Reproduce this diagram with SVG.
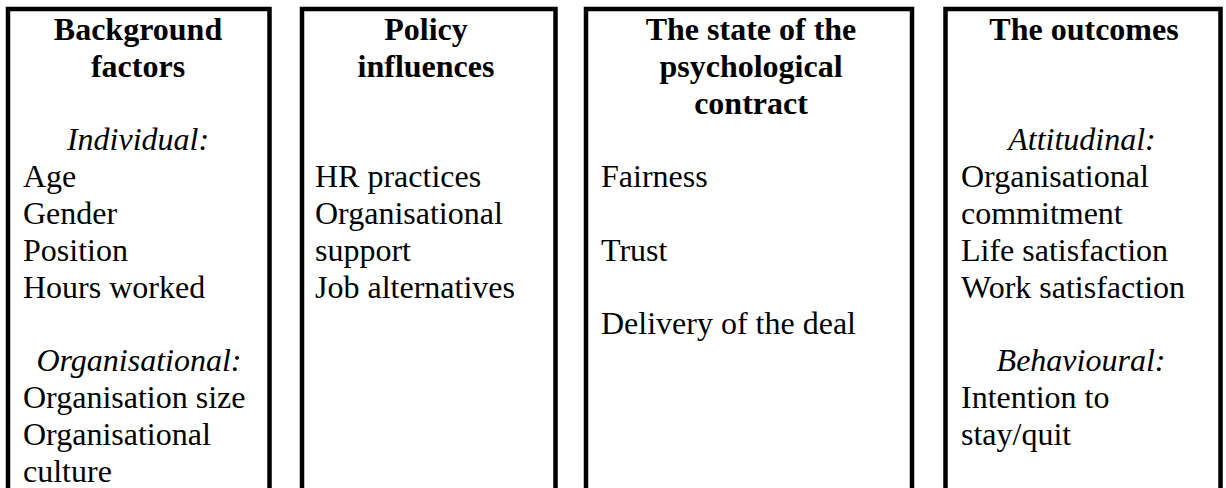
<svg xmlns="http://www.w3.org/2000/svg" width="1226" height="488" viewBox="0 0 1226 488">
<style>
.box{fill:#fff;stroke:#000;stroke-width:4.5}
text{font-family:"Liberation Serif","Times New Roman",serif;font-size:32px;fill:#000}
.t{font-weight:bold;text-anchor:middle}
.i{font-style:italic;text-anchor:middle}
</style>
<rect width="1226" height="488" fill="#fff"/>
<g id="background">
<rect class="box" x="8" y="9" width="261.5" height="520"/>
<text class="t" x="138" y="40">Background</text>
<text class="t" x="138" y="76.8">factors</text>
<text class="i" x="138" y="150.4">Individual:</text>
<text x="23" y="187.2">Age</text>
<text x="23" y="224">Gender</text>
<text x="23" y="260.8">Position</text>
<text x="23" y="297.6">Hours worked</text>
<text class="i" x="139" y="371.2">Organisational:</text>
<text x="23" y="408">Organisation size</text>
<text x="23" y="444.8">Organisational</text>
<text x="23" y="481.6">culture</text>
</g>
<g id="policy">
<rect class="box" x="302" y="9" width="253.5" height="520"/>
<text class="t" x="426" y="40">Policy</text>
<text class="t" x="426" y="76.8">influences</text>
<text x="315" y="187.2">HR practices</text>
<text x="315" y="224">Organisational</text>
<text x="315" y="260.8">support</text>
<text x="315" y="297.6">Job alternatives</text>
</g>
<g id="state">
<rect class="box" x="586" y="9" width="326" height="520"/>
<text class="t" x="751" y="40">The state of the</text>
<text class="t" x="751" y="76.8">psychological</text>
<text class="t" x="751" y="113.6">contract</text>
<text x="601" y="187.2">Fairness</text>
<text x="601" y="260.8">Trust</text>
<text x="601" y="334.4">Delivery of the deal</text>
</g>
<g id="outcomes">
<rect class="box" x="945.5" y="9" width="275" height="520"/>
<text class="t" x="1084" y="40">The outcomes</text>
<text class="i" x="1082" y="150.4">Attitudinal:</text>
<text x="961" y="187.2">Organisational</text>
<text x="961" y="224">commitment</text>
<text x="961" y="260.8">Life satisfaction</text>
<text x="961" y="297.6">Work satisfaction</text>
<text class="i" x="1081" y="371.2">Behavioural:</text>
<text x="961" y="408">Intention to</text>
<text x="961" y="444.8">stay/quit</text>
</g>
<g id="connectors"></g>
</svg>
